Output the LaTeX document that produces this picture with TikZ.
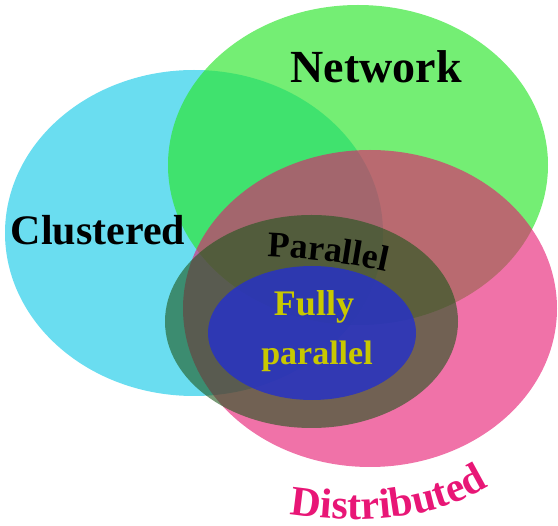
\documentclass[tikz,border=0pt]{standalone}
\usepackage{fontspec}
\setmainfont{Liberation Serif}
\usepackage{xcolor}
\usetikzlibrary{decorations.text}
\definecolor{clustcol}{RGB}{26,203,232}
\definecolor{netcol}{RGB}{41,229,41}
\definecolor{distcol}{RGB}{230,20,110}
\definecolor{parcol}{RGB}{29,87,27}
\definecolor{fullcol}{RGB}{39,50,196}
\definecolor{fulltext}{RGB}{200,200,0}
\definecolor{disttext}{RGB}{232,22,118}
\tikzset{
  blob/.style={fill=#1, opacity=0.65},
  lbl/.style={anchor=base, inner sep=0pt, font=\fontsize{#1}{#1}\selectfont\bfseries},
}
\begin{document}
\begin{tikzpicture}[x=1pt, y=-1pt]
\useasboundingbox (0,0) rectangle (558,526);
\fill[blob=clustcol] (194,233) ellipse [x radius=189pt, y radius=163pt];
\fill[blob=netcol] (358,165) ellipse [x radius=190pt, y radius=160pt];
\fill[blob=distcol, opacity=0.6] (370,308.5) ellipse [x radius=187pt, y radius=158.5pt];
\fill[blob=parcol, opacity=0.6] (311.5,321.5) ellipse [x radius=146.5pt, y radius=106.5pt];
\fill[blob=fullcol, opacity=0.85] (312,333) ellipse [x radius=104pt, y radius=67pt];
\node[lbl=42] (clustered) at (98,245) {Clustered};
\node[lbl=46] (network) at (376,83) {Network};
\node[lbl=36, text=fulltext] (fully) at (314,316) {Fully};
\node[lbl=34, text=fulltext] (fullyb) at (317,365) {parallel};
\path[decorate, decoration={text along path, text align=center,
  text={|\fontsize{36}{36}\selectfont\bfseries|Parallel}}]
  (252,256) .. controls (300,257) and (350,262) .. (401,275);
\path[decorate, decoration={text along path, text align=center, text color=disttext,
  text={|\fontsize{42}{42}\selectfont\bfseries|Distributed}}]
  (276,512) .. controls (360,527) and (440,522) .. (500,478);
\end{tikzpicture}
\end{document}
